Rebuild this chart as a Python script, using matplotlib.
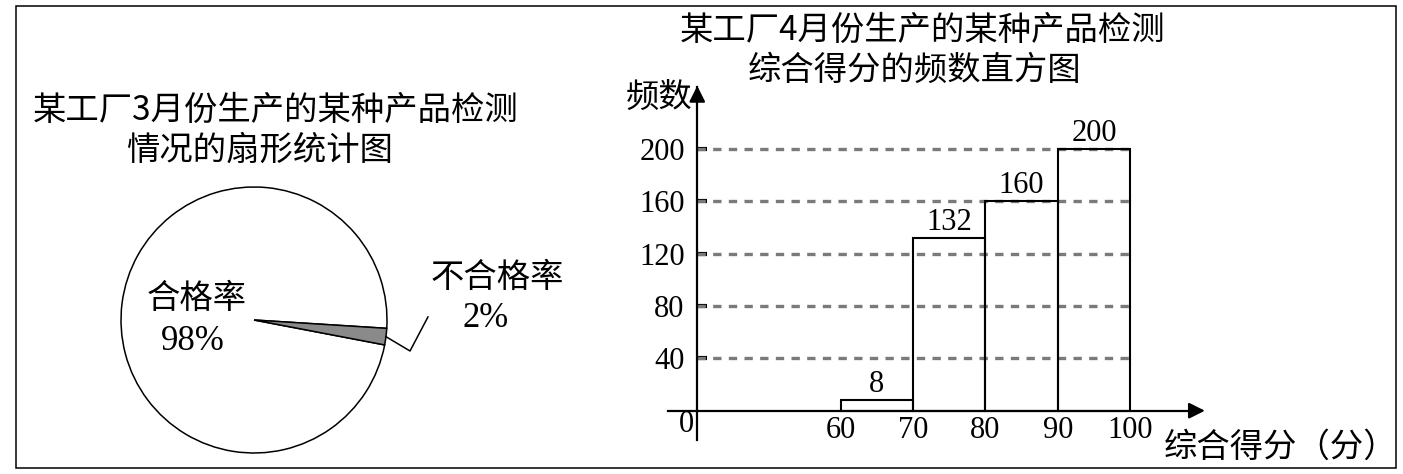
import numpy as np
import matplotlib
matplotlib.use('Agg')
from matplotlib import pyplot as plt
from matplotlib.patches import Rectangle

### DATA
pie_labels = ['合格率', '不合格率']
pie_values = [98, 2]
pie_colors = ['white', '#8a8a8a']

bin_edges = [60, 70, 80, 90]
bin_counts = [8, 132, 160, 200]
y_ticks = [40, 80, 120, 160, 200]
x_ticks = [60, 70, 80, 90, 100]

### FIGURE
W, H = 1403, 474
fig = plt.figure(figsize=(W / 100, H / 100), dpi=100)
cjk = ['Noto Sans CJK SC', 'DejaVu Sans']
serif = ['Liberation Serif', 'Noto Sans CJK SC']
plt.rcParams['font.family'] = serif
CJK_SIZE = 24
NUM_SIZE = 22


def px(x, y):
    # pixel position (from top-left) to figure fraction
    return x / W, 1 - y / H


# outer frame
fig.add_artist(Rectangle(px(16, 468), 1380 / W, 462 / H, transform=fig.transFigure,
                         fill=False, edgecolor='black', linewidth=1.1))

### LEFT: PIE
fig.text(*px(276, 110), '某工厂3月份生产的某种产品检测', family=cjk, fontsize=CJK_SIZE,
         ha='center', va='center')
fig.text(*px(260, 150), '情况的扇形统计图', family=cjk, fontsize=CJK_SIZE,
         ha='center', va='center')

r = 133
ax1 = fig.add_axes([(254 - r) / W, (474 - 320 - r) / H, 2 * r / W, 2 * r / H])
wedges, _ = ax1.pie(pie_values, colors=pie_colors, startangle=-360 * pie_values[1] / 100 / 2,
                    counterclock=True,
                    wedgeprops=dict(edgecolor='black', linewidth=1.1))
ax1.set_xlim(-1, 1)
ax1.set_ylim(-1, 1)
ax1.set_aspect('equal')
ax1.axis('off')

# gray wedge mid angle, leader line
g = wedges[1]
mid = np.deg2rad((g.theta1 + g.theta2) / 2)
ax1.plot([np.cos(mid), 1.173, 1.308], [np.sin(mid), -0.233, 0.023],
         color='black', linewidth=1.1, clip_on=False)

ax1.text(-0.43, 0.165, pie_labels[0], family=cjk, fontsize=CJK_SIZE, ha='center', va='center')
ax1.text(-0.46, -0.165, f'{pie_values[0]}%', fontsize=25, ha='center', va='center')
ax1.text(1.83, 0.32, pie_labels[1], family=cjk, fontsize=CJK_SIZE, ha='center', va='center',
         clip_on=False)
ax1.text(1.74, 0.015, f'{pie_values[1]}%', fontsize=25, ha='center', va='center',
         clip_on=False)

### RIGHT: HISTOGRAM
fig.text(*px(923, 30), '某工厂4月份生产的某种产品检测', family=cjk, fontsize=CJK_SIZE,
         ha='center', va='center')
fig.text(*px(915, 70), '综合得分的频数直方图', family=cjk, fontsize=CJK_SIZE,
         ha='center', va='center')

# pixel mapping: x=60 -> 840.6 px, 7.24 px per unit ; y=0 -> 410.7 px, 1.3085 px per unit
xl, xr = 30, 120
yb, yt = -30, 260
left_px = 840.6 - (60 - xl) * 7.24
right_px = 840.6 + (xr - 60) * 7.24
bot_px = 410.7 - yb * 1.3085
top_px = 410.7 - yt * 1.3085
ax2 = fig.add_axes([left_px / W, (H - bot_px) / H, (right_px - left_px) / W, (bot_px - top_px) / H])
ax2.set_xlim(xl, xr)
ax2.set_ylim(yb, yt)
ax2.patch.set_visible(False)

y_axis_x = 40.2
x_end = 110.7
y_end = 250.4
for s in ['top', 'right']:
    ax2.spines[s].set_visible(False)
ax2.spines['left'].set_position(('data', y_axis_x))
ax2.spines['left'].set_bounds(-22.4, y_end - 3)
ax2.spines['bottom'].set_position(('data', 0))
ax2.spines['bottom'].set_bounds(36.2, x_end - 1)
for s in ['left', 'bottom']:
    ax2.spines[s].set_linewidth(1.6)

# arrow heads
ax2.annotate('', xy=(x_end, 0), xytext=(x_end - 2, 0),
             arrowprops=dict(arrowstyle='-|>', color='black', lw=1.6, mutation_scale=24))
ax2.annotate('', xy=(y_axis_x, y_end), xytext=(y_axis_x, y_end - 10),
             arrowprops=dict(arrowstyle='-|>', color='black', lw=1.6, mutation_scale=24))

# gridlines
ax2.hlines(y_ticks, y_axis_x, 100, colors='#7a7a7a', linewidth=2.4,
           linestyles=(0, (2.5, 2.2)), zorder=2)

# bars
ax2.bar(bin_edges, bin_counts, width=10, align='edge', facecolor='none',
        edgecolor='black', linewidth=1.5, zorder=3)
for x0, c in zip(bin_edges, bin_counts):
    ax2.annotate(str(c), (x0 + 5, c), xytext=(0, 1), textcoords='offset points',
                 ha='center', va='bottom', fontsize=NUM_SIZE)

# ticks
ax2.set_yticks(y_ticks)
ax2.set_xticks(x_ticks)
ax2.tick_params(axis='y', direction='in', length=7, width=3, pad=9, labelsize=NUM_SIZE)
ax2.tick_params(axis='x', length=0, pad=4, labelsize=NUM_SIZE)

ax2.text(38.65, -10.9, '0', fontsize=NUM_SIZE, ha='center', va='center')
ax2.text(39.6, 239.7, '频数', family=cjk, fontsize=CJK_SIZE, ha='right', va='center')
ax2.text(104.6, -27.7, '综合得分（分）', family=cjk, fontsize=CJK_SIZE, ha='left', va='center',
         clip_on=False)

plt.savefig('out.png', dpi=100)
